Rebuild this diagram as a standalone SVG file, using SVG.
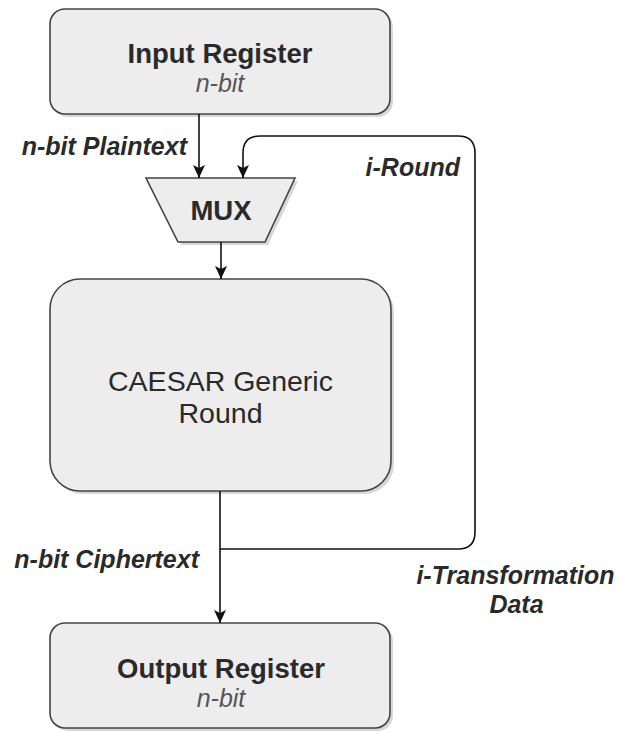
<svg xmlns="http://www.w3.org/2000/svg" width="621" height="733" viewBox="0 0 621 733">
  <style>
    .box { fill: #ededed; stroke: #444444; stroke-width: 1.6; }
    .shadow { fill: #bdbdbd; opacity: 0.6; }
    .title { font-family: "Liberation Sans", Arial, sans-serif; font-size: 27.5px; font-weight: bold; fill: #2a2a2a; text-anchor: middle; }
    .sub { font-family: "Liberation Sans", Arial, sans-serif; font-size: 25px; font-style: italic; fill: #555555; text-anchor: middle; }
    .big { font-family: "Liberation Sans", Arial, sans-serif; font-size: 28.5px; fill: #2a2a2a; text-anchor: middle; }
    .lbl { font-family: "Liberation Sans", Arial, sans-serif; font-size: 25px; font-weight: bold; font-style: italic; fill: #2a2a2a; }
    .wire { fill: none; stroke: #111111; stroke-width: 1.6; }
  </style>
  <defs>
    <marker id="arrow" viewBox="0 0 13 12" refX="13" refY="6" markerWidth="13" markerHeight="12" markerUnits="userSpaceOnUse" orient="auto">
      <path d="M0,0 L13,6 L0,12 L3,6 z" fill="#111111"/>
    </marker>
  </defs>

  <g id="input-register">
    <rect class="shadow" x="53" y="12" width="340" height="105" rx="15"/>
    <rect class="box" x="50" y="9" width="340" height="105" rx="15"/>
    <text class="title" x="220" y="63">Input Register</text>
    <text class="sub" x="220" y="92">n-bit</text>
  </g>

  <g id="mux">
    <polygon class="shadow" points="149,181 298,181 268,245 181,245"/>
    <polygon class="box" points="146,178 295,178 265,242 178,242"/>
    <text class="title" x="221" y="220">MUX</text>
  </g>

  <g id="caesar-round">
    <rect class="shadow" x="53" y="282" width="341" height="212" rx="30"/>
    <rect class="box" x="50" y="279" width="341" height="212" rx="30"/>
    <text class="big" x="220.5" y="391">CAESAR Generic</text>
    <text class="big" x="220.5" y="423">Round</text>
  </g>

  <g id="output-register">
    <rect class="shadow" x="53" y="626" width="340" height="105" rx="15"/>
    <rect class="box" x="50" y="623" width="340" height="105" rx="15"/>
    <text class="title" x="221" y="678">Output Register</text>
    <text class="sub" x="221" y="707">n-bit</text>
  </g>

  <g id="connectors">
    <path class="wire" d="M199,114 V178" marker-end="url(#arrow)"/>
    <path class="wire" d="M221,242 V279" marker-end="url(#arrow)"/>
    <path class="wire" d="M220,491 V623" marker-end="url(#arrow)"/>
    <path class="wire" d="M220,549 H458 Q475,549 475,532 V153 Q475,136 458,136 H260 Q243,136 243,153 V178" marker-end="url(#arrow)"/>
  </g>

  <g id="labels">
    <text class="lbl" x="187" y="155" text-anchor="end">n-bit Plaintext</text>
    <text class="lbl" x="460" y="176" text-anchor="end">i-Round</text>
    <text class="lbl" x="199" y="568" text-anchor="end">n-bit Ciphertext</text>
    <text class="lbl" x="515.5" y="584" text-anchor="middle">i-Transformation</text>
    <text class="lbl" x="516.5" y="613" text-anchor="middle">Data</text>
  </g>
</svg>
